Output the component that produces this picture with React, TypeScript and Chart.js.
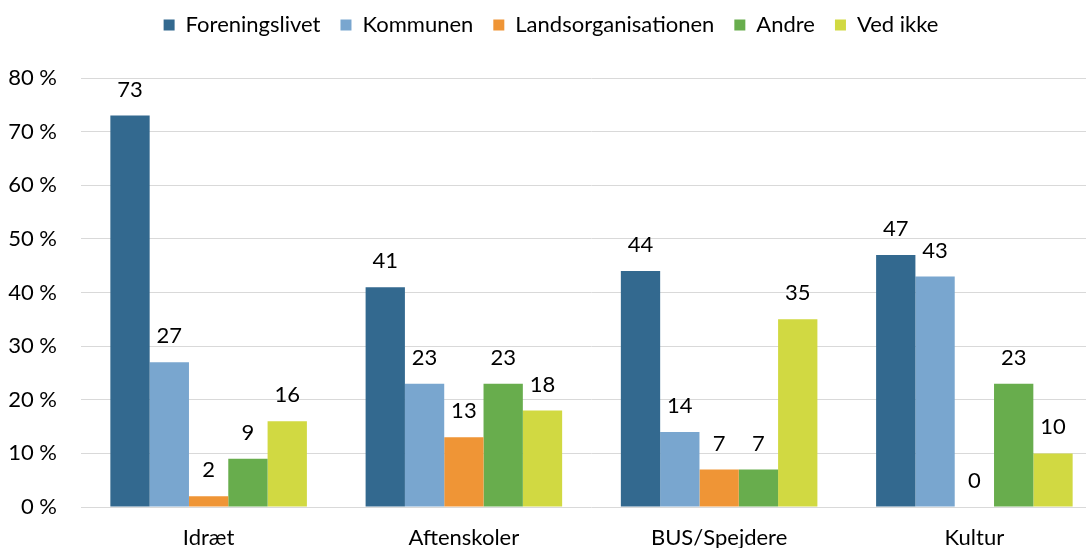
import React, { useEffect, useRef } from "react";
import { Chart, registerables } from "chart.js";

Chart.register(...registerables);

const categories = ["Idræt", "Aftenskoler", "BUS/Spejdere", "Kultur"];
const seriesNames = ["Foreningslivet", "Kommunen", "Landsorganisationen", "Andre", "Ved ikke"];
const foreningslivet = [73, 41, 44, 47];
const kommunen = [27, 23, 14, 43];
const landsorganisationen = [2, 13, 7, 0];
const andre = [9, 23, 7, 23];
const vedIkke = [16, 18, 35, 10];
const colors = ["#33698F", "#79A6CF", "#EF9536", "#68AD4D", "#D1D942"];
const yTicks = [0, 10, 20, 30, 40, 50, 60, 70, 80];

const FONT = "Lato, 'Noto Sans', sans-serif";
const FS = 22;

const valueLabels = {
  id: "valueLabels",
  afterDatasetsDraw(chart: any) {
    const ctx = chart.ctx;
    ctx.save();
    ctx.font = `${FS}px ${FONT}`;
    ctx.fillStyle = "#000";
    ctx.textAlign = "center";
    ctx.textBaseline = "middle";
    chart.data.datasets.forEach((ds: any, i: number) => {
      const meta = chart.getDatasetMeta(i);
      meta.data.forEach((el: any, j: number) => {
        ctx.fillText(String(ds.data[j]), el.x, el.y - 26);
      });
    });
    ctx.restore();
  },
};

const legendHeight = {
  id: "legendHeight",
  beforeLayout(chart: any) {
    const lg = chart.legend;
    if (lg && !lg.__patched) {
      const orig = lg.fit.bind(lg);
      lg.fit = function () {
        orig();
        this.height = 84;
      };
      lg.__patched = true;
    }
  },
};

export default function App() {
  const ref = useRef<HTMLCanvasElement>(null);
  useEffect(() => {
    const all = [foreningslivet, kommunen, landsorganisationen, andre, vedIkke];
    const chart = new Chart(ref.current!, {
      type: "bar",
      data: {
        labels: categories,
        datasets: all.map((d, i) => ({
          label: seriesNames[i],
          data: d,
          backgroundColor: colors[i],
          borderWidth: 0,
          barPercentage: 1,
          categoryPercentage: 0.77,
        })),
      },
      options: {
        animation: false,
        responsive: false,
        maintainAspectRatio: false,
        layout: { padding: { top: -6, left: 0, right: 0, bottom: 0 } },
        plugins: {
          tooltip: { enabled: false },
          legend: {
            position: "top",
            labels: {
              boxWidth: 11,
              boxHeight: 11,
              padding: 20,
              color: "#000",
              font: { family: FONT, size: FS },
            },
          },
        },
        scales: {
          x: {
            grid: { display: false, drawTicks: false },
            border: { display: false },
            ticks: { color: "#000", font: { family: FONT, size: FS }, padding: 18 },
            afterFit: (s: any) => {
              s.height = 41;
            },
          },
          y: {
            min: 0,
            max: 80,
            afterBuildTicks: (s: any) => {
              s.ticks = yTicks.map((v) => ({ value: v }));
            },
            grid: { color: "#D9D9D9", lineWidth: 1, drawTicks: false },
            border: { display: false },
            ticks: {
              color: "#000",
              font: { family: FONT, size: FS },
              padding: 24,
              callback: (v: any) => `${v} %`,
            },
            afterFit: (s: any) => {
              s.width = 81;
            },
          },
        },
      },
      plugins: [legendHeight, valueLabels],
    });
    return () => chart.destroy();
  }, []);
  return (
    <div style={{ position: "fixed", left: 0, top: 0, width: 1086, height: 548, overflow: "hidden", background: "#fff" }}>
      <canvas ref={ref} width={1102} height={548} style={{ width: 1102, height: 548 }} />
    </div>
  );
}
